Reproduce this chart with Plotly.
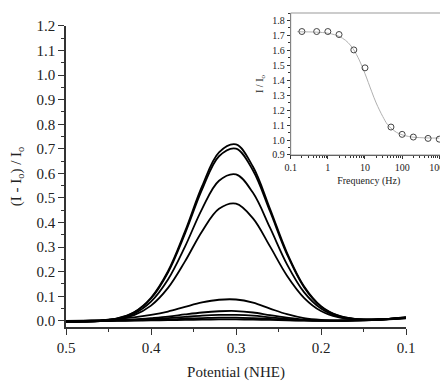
import plotly.graph_objects as go

# ---------------- main panel data ----------------
potential = [0.50, 0.48, 0.46, 0.44, 0.42, 0.40, 0.38, 0.36, 0.34, 0.32, 0.30,
             0.28, 0.26, 0.24, 0.22, 0.20, 0.18, 0.16, 0.14, 0.12, 0.10]

curve_1 = [-0.004, -0.003, 0.000, 0.010, 0.035, 0.094, 0.202, 0.364, 0.547, 0.686, 0.718,
           0.627, 0.456, 0.277, 0.141, 0.060, 0.022, 0.008, 0.006, 0.008, 0.014]
curve_2 = [-0.004, -0.003, 0.000, 0.009, 0.034, 0.091, 0.197, 0.355, 0.534, 0.670, 0.701,
           0.612, 0.446, 0.271, 0.137, 0.058, 0.021, 0.008, 0.005, 0.008, 0.015]
curve_3 = [-0.004, -0.003, 0.000, 0.008, 0.029, 0.078, 0.168, 0.302, 0.455, 0.570, 0.596,
           0.521, 0.379, 0.230, 0.117, 0.050, 0.018, 0.007, 0.005, 0.008, 0.013]
curve_4 = [-0.004, -0.003, -0.001, 0.006, 0.023, 0.062, 0.134, 0.242, 0.364, 0.456, 0.477,
           0.417, 0.303, 0.184, 0.094, 0.040, 0.015, 0.006, 0.005, 0.008, 0.012]
curve_5 = [0.000, 0.001, 0.003, 0.008, 0.014, 0.024, 0.038, 0.057, 0.075, 0.086, 0.087,
           0.074, 0.050, 0.027, 0.011, 0.004, 0.002, 0.003, 0.005, 0.008, 0.013]
curve_6 = [0.000, 0.000, 0.001, 0.003, 0.006, 0.011, 0.017, 0.026, 0.034, 0.039, 0.040,
           0.034, 0.023, 0.013, 0.005, 0.002, 0.001, 0.002, 0.004, 0.008, 0.012]
curve_7 = [0.000, 0.000, 0.001, 0.002, 0.004, 0.007, 0.011, 0.016, 0.021, 0.024, 0.024,
           0.021, 0.014, 0.008, 0.003, 0.001, 0.001, 0.002, 0.004, 0.007, 0.012]
curve_8 = [-0.001, -0.001, 0.000, 0.001, 0.002, 0.004, 0.006, 0.009, 0.011, 0.013, 0.013,
           0.011, 0.008, 0.004, 0.002, 0.001, 0.001, 0.002, 0.003, 0.007, 0.011]
curve_9 = [-0.002, -0.002, -0.001, 0.000, 0.001, 0.002, 0.003, 0.004, 0.005, 0.006, 0.006,
           0.005, 0.004, 0.002, 0.001, 0.000, 0.000, 0.001, 0.003, 0.006, 0.010]

main_curves = [curve_1, curve_2, curve_3, curve_4, curve_5, curve_6, curve_7, curve_8, curve_9]

main_x_ticks = [0.5, 0.4, 0.3, 0.2, 0.1]
main_x_ticktext = ["0.5", "0.4", "0.3", "0.2", "0.1"]

# ---------------- inset data ----------------
freq_points = [0.2, 0.5, 1, 2, 5, 10, 50, 100, 200, 500, 1000]
ratio_points = [1.726, 1.726, 1.726, 1.706, 1.603, 1.483, 1.087, 1.038, 1.020, 1.011, 1.006]

fit_freq = [0.15, 0.2, 0.5, 1, 1.5, 2, 3, 4, 5, 7, 10, 15, 20, 30, 40, 50, 70,
            100, 150, 200, 300, 500, 1000]
fit_ratio = [1.725, 1.724, 1.722, 1.715, 1.705, 1.694, 1.667, 1.636, 1.603, 1.536, 1.444,
             1.327, 1.248, 1.158, 1.105, 1.080, 1.052, 1.035, 1.024, 1.019, 1.016, 1.014, 1.013]

inset_x_ticks = [0.1, 1, 10, 100, 1000]
inset_x_ticktext = ["0.1", "1", "10", "100", "1000"]
inset_minor = [m * d for d in [0.1, 1, 10, 100] for m in range(2, 10)]

SERIF = "Liberation Serif, Times New Roman, serif"
AX = "#333333"

fig = go.Figure()

for c in main_curves:
    fig.add_trace(go.Scatter(x=potential, y=c, mode="lines", line_shape="spline",
                             line=dict(color="black", width=1.8),
                             xaxis="x", yaxis="y", showlegend=False, hoverinfo="skip"))

fig.add_trace(go.Scatter(x=fit_freq, y=fit_ratio, mode="lines", line_shape="spline",
                         line=dict(color="#b0b0b0", width=1),
                         xaxis="x2", yaxis="y2", showlegend=False))
fig.add_trace(go.Scatter(x=freq_points, y=ratio_points, mode="markers",
                         marker=dict(symbol="circle-open", size=6,
                                     color="#444444", line=dict(width=1, color="#444444")),
                         xaxis="x2", yaxis="y2", showlegend=False))

fig.update_layout(
    width=448, height=381,
    margin=dict(l=58, r=9, t=5, b=62, autoexpand=False),
    paper_bgcolor="white", plot_bgcolor="white",
    font=dict(family=SERIF, color="#222222", size=15),
    xaxis=dict(domain=[0, 0.8924], range=[0.5, 0.1], anchor="y", automargin=False,
               tickvals=main_x_ticks, ticktext=main_x_ticktext,
               ticks="outside", ticklen=6, tickwidth=1.2, tickcolor=AX,
               showline=True, linecolor=AX, linewidth=1.5, showgrid=False, zeroline=False,
               minor=dict(tickvals=[0.45, 0.35, 0.25, 0.15], ticks="outside", ticklen=3,
                          tickcolor=AX, tickwidth=1),
               tickfont=dict(size=15, family=SERIF),
               title=dict(text="Potential (NHE)", font=dict(size=15, family=SERIF), standoff=12)),
    yaxis=dict(domain=[0, 0.9586], range=[-0.025, 1.2], anchor="x", automargin=False,
               tick0=0, dtick=0.1, tickformat=".1f",
               ticks="outside", ticklen=6, tickwidth=1.2, tickcolor=AX,
               showline=True, linecolor=AX, linewidth=1.5, showgrid=False, zeroline=False,
               minor=dict(dtick=0.05, ticks="outside", ticklen=3, tickcolor=AX, tickwidth=1),
               tickfont=dict(size=15, family=SERIF),
               title=dict(text="(I - I<sub>o</sub>) / I<sub>o</sub>",
                          font=dict(size=15, family=SERIF), standoff=21)),
    xaxis2=dict(domain=[0.5898, 0.9992], type="log", range=[-1, 3.2], anchor="y2",
                automargin=False,
                tickvals=inset_x_ticks, ticktext=inset_x_ticktext,
                ticks="outside", ticklen=3, tickwidth=1, tickcolor=AX,
                showline=True, linecolor=AX, linewidth=1, showgrid=False, zeroline=False,
                minor=dict(tickvals=inset_minor, ticks="outside", ticklen=2, tickcolor=AX,
                           tickwidth=0.8),
                tickfont=dict(size=10, family=SERIF),
                title=dict(text="Frequency (Hz)", font=dict(size=10, family=SERIF), standoff=5)),
    yaxis2=dict(domain=[0.5478, 1.0], range=[0.9, 1.85], anchor="x2", automargin=False,
                tick0=0.9, dtick=0.1, tickformat=".1f",
                ticks="outside", ticklen=3, tickwidth=1, tickcolor=AX,
                showline=True, linecolor=AX, linewidth=1, showgrid=False, zeroline=False,
                minor=dict(dtick=0.05, ticks="outside", ticklen=2, tickcolor=AX, tickwidth=0.8),
                tickfont=dict(size=10, family=SERIF),
                title=dict(text="I / I<sub>o</sub>", font=dict(size=10, family=SERIF), standoff=6)),
    shapes=[dict(type="rect", xref="x2 domain", yref="y2 domain", x0=0, x1=1, y0=0, y1=1,
                 line=dict(color="#999999", width=1), fillcolor="rgba(0,0,0,0)")],
)

fig.write_html("out.html")
